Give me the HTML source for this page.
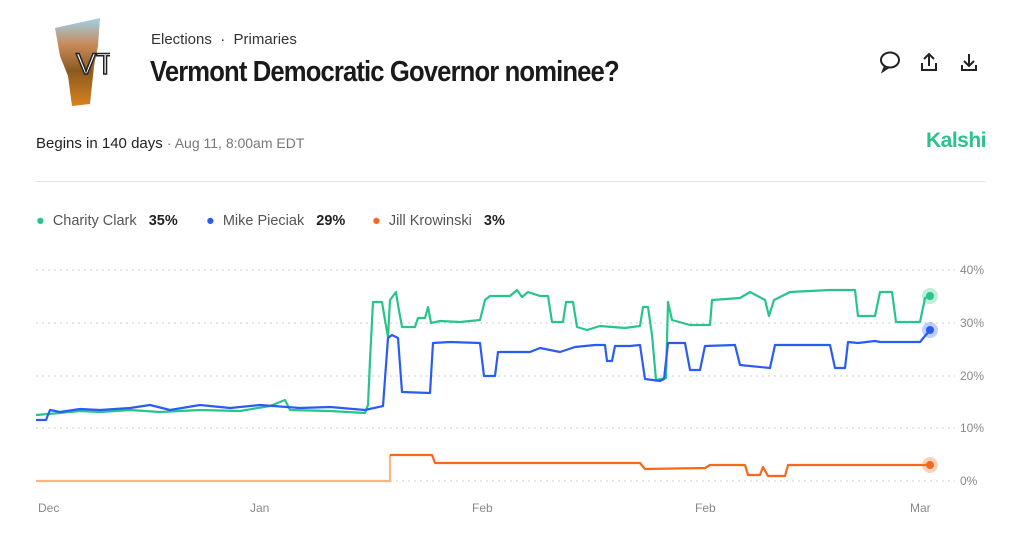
<!DOCTYPE html><html><head><style>
body{margin:0;width:1022px;height:536px;background:#fff;font-family:"Liberation Sans",sans-serif;position:relative;overflow:hidden;color:#222}
.a{position:absolute;white-space:nowrap}
.l{position:absolute;top:213px;font-size:14.5px;color:#555}
.l b{color:#222}
</style></head><body>
<svg class="a" style="left:50px;top:16px" width="60" height="92" viewBox="0 0 60 92">
<defs><linearGradient id="g" x1="0" y1="0" x2="0" y2="1"><stop offset="0" stop-color="#9dd3ea"/><stop offset=".3" stop-color="#c98a5a"/><stop offset=".6" stop-color="#8a5a20"/><stop offset="1" stop-color="#d9821e"/></linearGradient></defs>
<path d="M5 12 L50 2 L48 30 L44 50 L40 88 L22 90 L18 60 L10 40 Z" fill="url(#g)"/>
<text x="26" y="58" font-size="30" font-family="Liberation Sans" fill="#fff" stroke="#222" stroke-width="1.5">VT</text>
</svg>
<div class="a" style="left:151px;top:31px;font-size:15px;color:#333">Elections &nbsp;·&nbsp; Primaries</div>
<div class="a" style="left:150px;top:56px;font-size:29px;font-weight:bold;letter-spacing:-1px;transform:scaleX(.885);transform-origin:left;color:#1a1a1a">Vermont Democratic Governor nominee?</div>
<svg class="a" style="left:878px;top:50px" width="100" height="24" fill="none" stroke="#222" stroke-width="2">
<ellipse cx="12" cy="10" rx="9" ry="7.5"/><path d="M7 16 L5 21 L11 17"/>
<path d="M51 4 V16 M46 9 L51 4 L56 9 M44 13 V20 H58 V13"/>
<path d="M91 4 V15 M86 11 L91 16 L96 11 M84 15 V20 H98 V15"/>
</svg>
<div class="a" style="left:36px;top:135px;font-size:15px;color:#222">Begins in 140 days <span style="color:#777;font-size:14px">· Aug 11, 8:00am EDT</span></div>
<div class="a" style="left:926px;top:129px;font-size:21px;font-weight:bold;color:#28c48c;letter-spacing:-.5px">Kalshi</div>
<div class="a" style="left:36px;top:181px;width:950px;height:1px;background:#e6e6e6"></div>
<div class="l" style="left:36px"><span style="color:#28c48c">●</span>&nbsp; Charity Clark &nbsp;&nbsp;<b>35%</b></div>
<div class="l" style="left:206px"><span style="color:#2a5cf5">●</span>&nbsp; Mike Pieciak &nbsp;&nbsp;<b>29%</b></div>
<div class="l" style="left:372px"><span style="color:#f46a1a">●</span>&nbsp; Jill Krowinski &nbsp;&nbsp;<b>3%</b></div>
<svg class="a" style="left:0;top:0" width="1022" height="536">
<g stroke="#ccc" stroke-dasharray="2 4" stroke-width="1">
<line x1="36" y1="270" x2="955" y2="270"/><line x1="36" y1="323" x2="955" y2="323"/><line x1="36" y1="376" x2="955" y2="376"/><line x1="36" y1="428" x2="955" y2="428"/><line x1="36" y1="481" x2="955" y2="481"/></g>
<g font-size="12" fill="#888" font-family="Liberation Sans">
<text x="960" y="274">40%</text><text x="960" y="327">30%</text><text x="960" y="380">20%</text><text x="960" y="432">10%</text><text x="960" y="485">0%</text>
<text x="38" y="512">Dec</text><text x="250" y="512">Jan</text><text x="472" y="512">Feb</text><text x="695" y="512">Feb</text><text x="910" y="512">Mar</text></g>
<g fill="none" stroke-width="2.2" stroke-linejoin="round">
<polyline stroke="#f9b48a" points="36,481 390,481 390,455"/>
<polyline stroke="#f46a1a" points="390,455 432,455 435,463 640,463 645,469 705,468 710,465 745,465 748,475 760,475 763,467 768,476 785,476 788,465 930,465"/>
<polyline stroke="#28c48c" points="36,415 60,413 80,411 100,412 130,410 160,412 200,410 240,411 270,406 285,400 290,410 330,411 365,413 368,405 370,360 373,302 382,302 385,320 388,337 390,300 396,292 398,305 402,327 415,327 418,318 425,318 428,307 431,323 440,321 460,322 480,320 485,300 490,296 510,296 517,290 522,297 528,292 540,296 548,296 552,322 563,322 566,302 573,302 577,327 587,330 600,326 625,328 640,326 643,307 648,307 652,335 656,380 666,378 668,302 672,320 690,325 710,325 712,300 740,298 750,292 765,300 769,316 774,300 790,292 830,290 855,290 858,316 875,316 880,292 892,292 896,322 920,322 925,298 930,296"/>
<polyline stroke="#2a5cf5" points="36,420 46,420 50,410 60,412 80,409 100,410 130,408 150,405 170,410 200,405 230,408 260,405 300,408 330,407 365,410 383,406 388,338 392,335 398,338 402,392 430,393 433,343 450,342 480,343 484,376 495,376 498,352 530,352 540,348 560,352 575,347 595,345 605,345 607,361 612,361 615,346 630,346 640,345 645,379 660,381 664,379 668,343 685,343 690,370 700,370 705,346 735,345 740,365 770,368 775,345 830,345 835,368 845,368 848,342 858,343 875,341 880,342 920,342 930,330"/>
</g>
<circle cx="930" cy="296" r="8" fill="#28c48c" opacity=".3"/><circle cx="930" cy="296" r="4" fill="#28c48c"/>
<circle cx="930" cy="330" r="8" fill="#2a5cf5" opacity=".3"/><circle cx="930" cy="330" r="4" fill="#2a5cf5"/>
<circle cx="930" cy="465" r="8" fill="#f46a1a" opacity=".3"/><circle cx="930" cy="465" r="4" fill="#f46a1a"/>
</svg>
</body></html>
